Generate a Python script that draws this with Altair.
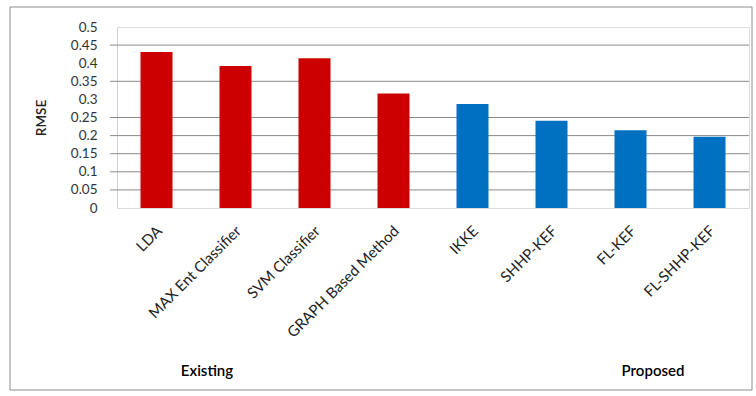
import altair as alt
import pandas as pd

methods = ["LDA", "MAX Ent Classifier", "SVM Classifier", "GRAPH Based Method",
           "IKKE", "SHHP-KEF", "FL-KEF", "FL-SHHP-KEF"]
rmse = [0.431, 0.392, 0.414, 0.316, 0.287, 0.241, 0.215, 0.197]
groups = ["Existing", "Existing", "Existing", "Existing",
          "Proposed", "Proposed", "Proposed", "Proposed"]
y_ticks = [0, 0.05, 0.1, 0.15, 0.2, 0.25, 0.3, 0.35, 0.4, 0.45, 0.5]
grid_values = [0.05, 0.1, 0.15, 0.2, 0.25, 0.35, 0.45]

df = pd.DataFrame({"Method": methods, "RMSE": rmse, "Group": groups})
grid_df = pd.DataFrame({"RMSE": grid_values})

FONT = "Lato"
W, H = 632, 181

yscale = alt.Scale(domain=[0, 0.5], nice=False)
yaxis = alt.Axis(values=y_ticks, grid=False, ticks=False, format=".2~f",
                 domainColor="#d0d0d0", labelFont=FONT, labelFontSize=13.5,
                 labelColor="#333333", labelPadding=20,
                 titleFont=FONT, titleFontSize=13.5, titleFontWeight=600,
                 titleColor="#222222", titlePadding=22)

border = alt.Chart(alt.Data(values=[{"a": 1}])).mark_rect(
    fill="white", fillOpacity=0, stroke="#8c8c8c", strokeWidth=1
).encode(
    x=alt.value(-107), x2=alt.value(635), y=alt.value(-20), y2=alt.value(363)
)

grid = alt.Chart(grid_df).mark_rule(color="#8a8a8a", strokeWidth=1).encode(
    y=alt.Y("RMSE:Q", scale=yscale, axis=yaxis, title="RMSE"),
    x=alt.value(-7), x2=alt.value(W)
)

bars = alt.Chart(df).mark_bar(size=32).encode(
    x=alt.X("Method:N", sort=methods, title=None,
            scale=alt.Scale(paddingInner=0.6, paddingOuter=0.3),
            axis=alt.Axis(labelAngle=-45, labelFont=FONT, labelFontSize=15,
                          labelColor="#222222", ticks=False, domain=False,
                          labelPadding=20, labelOffset=3, labelAlign="right",
                          labelBaseline="middle")),
    y=alt.Y("RMSE:Q", scale=yscale, title="RMSE", axis=yaxis),
    color=alt.Color("Group:N", scale=alt.Scale(domain=["Existing", "Proposed"],
                                                range=["#cc0000", "#0070c0"]),
                    legend=None)
)

group_text = alt.Chart(alt.Data(values=[{"t": "Existing"}])).mark_text(
    font=FONT, fontSize=15, color="#000000", fontWeight=600
).encode(text="t:N", x=alt.value(90), y=alt.value(344))

group_text2 = alt.Chart(alt.Data(values=[{"t": "Proposed"}])).mark_text(
    font=FONT, fontSize=15, color="#000000", fontWeight=600
).encode(text="t:N", x=alt.value(536), y=alt.value(344))

chart = alt.layer(border, grid, bars, group_text, group_text2).properties(
    width=W, height=H,
    autosize=alt.AutoSizeParams(type="none"),
    padding={"left": 117, "top": 27, "right": 7, "bottom": 188}
).configure_view(stroke=None).configure(background="white")

chart.save("out.html", embed_options={"renderer": "svg", "actions": False})
